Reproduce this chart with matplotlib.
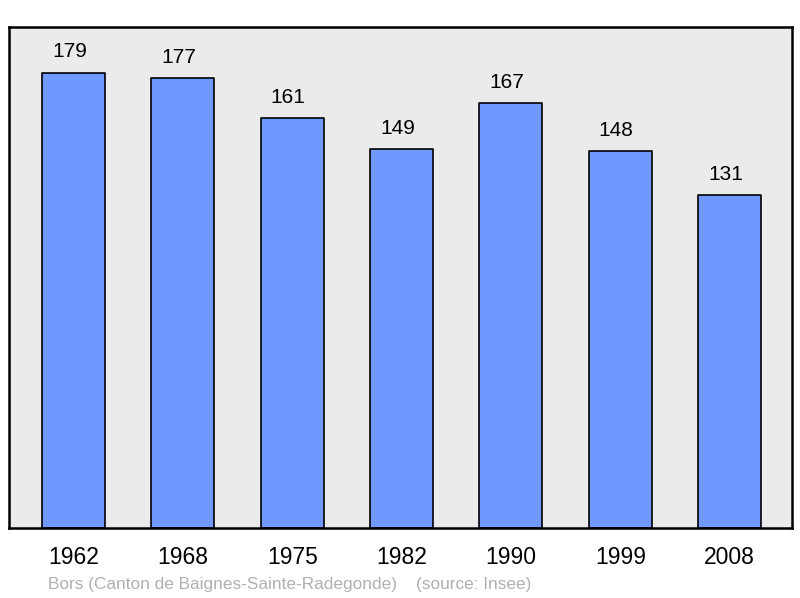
import matplotlib
matplotlib.use('Agg')
import matplotlib.pyplot as plt

plt.rcParams['font.family'] = ['Liberation Sans', 'DejaVu Sans']

# data
years = ['1962', '1968', '1975', '1982', '1990', '1999', '2008']
population = [179, 177, 161, 149, 167, 148, 131]
footer = 'Bors (Canton de Baignes-Sainte-Radegonde)    (source: Insee)'

fig = plt.figure(figsize=(8, 5.98), dpi=100)
ax = fig.add_axes([9 / 800, 70 / 598, 783 / 800, 501 / 598])
ax.set_facecolor('#ebebeb')

x = list(range(len(years)))
bars = ax.bar(x, population, width=0.576, color='#7099ff', edgecolor='black',
              linewidth=1.2, joinstyle='round')

# value labels sit a little left of the bar centre in the original
for xi, v in zip(x, population):
    ax.annotate(str(v), (xi, v), xytext=(-3, 8), textcoords='offset points',
                ha='center', va='bottom', fontsize=15)

ax.set_xlim(-0.59, 6.57)
ax.set_ylim(0, max(population) * 1.1)
ax.set_yticks([])
ax.set_xticks(x)
ax.set_xticklabels(years, fontsize=16.5)
ax.tick_params(axis='x', length=0, pad=13)
for s in ax.spines.values():
    s.set_linewidth(1.8)
    s.set_color('black')

fig.text(48 / 800, 1 - 584 / 598, footer, fontsize=12.4, color='#b0b0b0',
         ha='left', va='center')

fig.savefig('out.png', dpi=100)
